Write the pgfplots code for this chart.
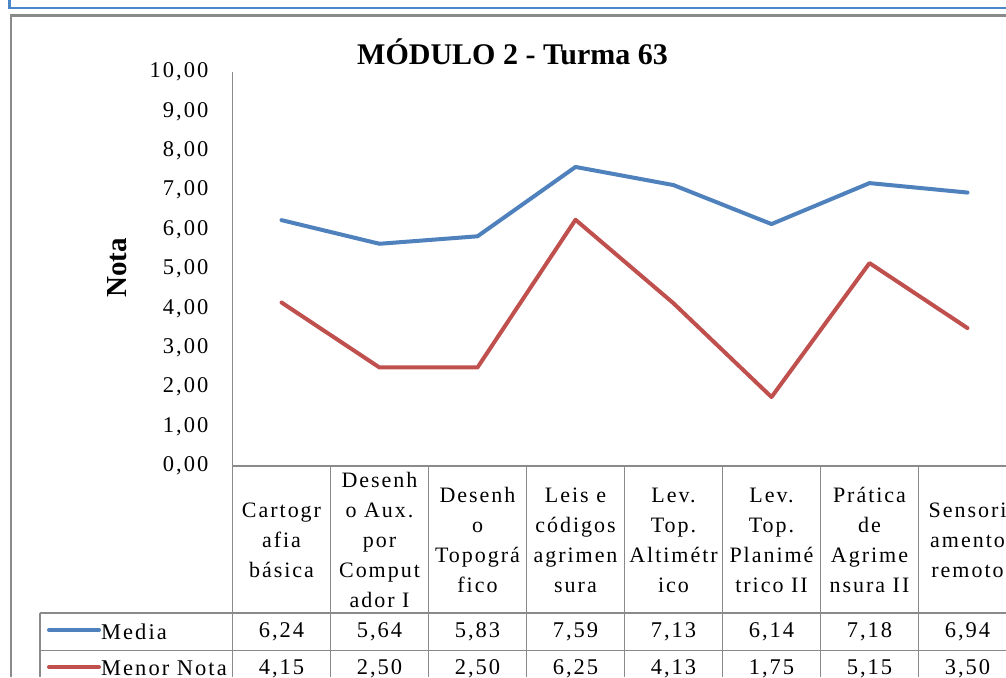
\documentclass[border=0pt]{standalone}
\usepackage{fontspec}
\setmainfont{Liberation Serif}
\newfontfamily\tabfont{Liberation Serif}[LetterSpace=9]
\usepackage{pgfplots}
\pgfplotsset{compat=1.18}
\definecolor{sblue}{HTML}{4F81BD}
\definecolor{sred}{HTML}{C0504D}
\definecolor{grid}{HTML}{8A8A8A}
\definecolor{frameblue}{HTML}{4A86C8}
\begin{document}
\begin{tikzpicture}
\clip (0pt,0pt) rectangle (1006pt,677pt);
\fill[white] (0pt,0pt) rectangle (1006pt,677pt);
% outer frames
\draw[frameblue, line width=1.2pt] (8pt,669pt) -- (1006pt,669pt);
\draw[frameblue, line width=3pt] (9.5pt,677pt) -- (9.5pt,669pt);
\draw[grid, line width=2.5pt] (9.5pt,661.5pt) -- (1006pt,661.5pt);
\draw[grid, line width=2pt] (10.5pt,662pt) -- (10.5pt,0pt);
\begin{axis}[
  at={(232.5pt,211pt)}, anchor=south west,
  scale only axis, width=784pt, height=394pt,
  xmin=-0.5, xmax=7.5, ymin=0, ymax=10,
  axis lines=left,
  axis line style={-, draw=grid, line width=1.8pt},
  major tick length=0pt,
  ytick={0,1,...,10},
  xtick={0,1,...,7},
  xticklabels={{Cartogr\\afia\\básica},{Desenh\\o Aux.\\por\\Comput\\ador I},{Desenh\\o\\Topográ\\fico},{Leis e\\códigos\\agrimen\\sura},{Lev.\\Top.\\Altimétr\\ico},{Lev.\\Top.\\Planimé\\trico II},{Prática\\de\\Agrime\\nsura II},{Sensori\\amento\\remoto}},
  xticklabel style={font=\tabfont\fontsize{22}{30}\selectfont, align=center, anchor=center, inner sep=0pt, yshift=-74pt},
  yticklabel style={font=\tabfont\fontsize{22.5}{26}\selectfont, anchor=east, inner sep=0pt, xshift=-24pt},
  /pgf/number format/fixed,
  /pgf/number format/fixed zerofill,
  /pgf/number format/precision=2,
  /pgf/number format/use comma,
  /pgf/number format/assume math mode=true,
  clip=false,
]
\addplot[sblue, line width=4pt, line join=round, line cap=round] coordinates {
  (0,6.24) (1,5.64) (2,5.83) (3,7.59) (4,7.13) (5,6.14) (6,7.18) (7,6.94)};
\addplot[sred, line width=4pt, line join=round, line cap=round] coordinates {
  (0,4.15) (1,2.50) (2,2.50) (3,6.25) (4,4.13) (5,1.75) (6,5.15) (7,3.50)};
\end{axis}
% title and y label
\node[font=\bfseries\fontsize{30}{32}\selectfont] at (512.5pt,625pt) {MÓDULO 2 - Turma 63};
\node[font=\bfseries\fontsize{29}{32}\selectfont, rotate=90] at (117pt,409pt) {Nota};
% data table grid
\draw[grid, line width=1.8pt] (232.5pt,211pt) -- (232.5pt,0pt);
\foreach \k in {1,...,7} {
  \draw[grid, line width=1.8pt] ({232.5pt+98pt*\k},211pt) -- ({232.5pt+98pt*\k},0pt);
}
\draw[grid, line width=1.8pt] (40pt,64pt) -- (1006pt,64pt);
\draw[grid, line width=1.8pt] (40pt,26.5pt) -- (1006pt,26.5pt);
\draw[grid, line width=1.8pt] (40pt,64pt) -- (40pt,0pt);
% legend keys
\draw[sblue, line width=4pt, line cap=round] (49pt,47pt) -- (99pt,47pt);
\draw[sred, line width=4pt, line cap=round] (49pt,10pt) -- (99pt,10pt);
\node[font=\tabfont\fontsize{22.5}{26}\selectfont, anchor=west, inner sep=0pt] at (101pt,45.5pt) {Media};
\node[font=\tabfont\fontsize{22.5}{26}\selectfont, anchor=west, inner sep=0pt] at (101pt,8.5pt) {Menor Nota};
% table values
\foreach \v [count=\i from 0] in {{6,24},{5,64},{5,83},{7,59},{7,13},{6,14},{7,18},{6,94}} {
  \node[font=\tabfont\fontsize{22.5}{26}\selectfont, inner sep=0pt] at ({281.5pt+98pt*\i},45pt) {\v};
}
\foreach \v [count=\i from 0] in {{4,15},{2,50},{2,50},{6,25},{4,13},{1,75},{5,15},{3,50}} {
  \node[font=\tabfont\fontsize{22.5}{26}\selectfont, inner sep=0pt] at ({281.5pt+98pt*\i},8pt) {\v};
}
\end{tikzpicture}
\end{document}
